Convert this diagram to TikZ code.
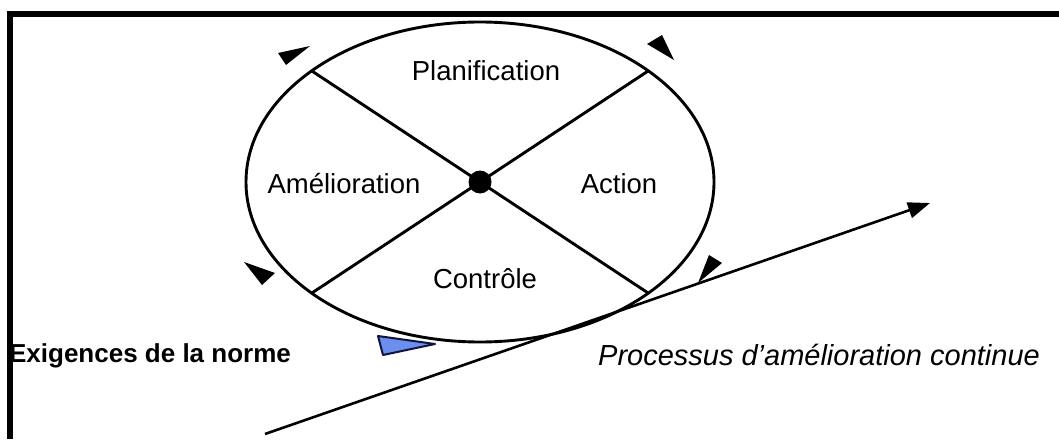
\documentclass[tikz,border=0pt]{standalone}
\usepackage{fontspec}
\setmainfont{Liberation Sans}
\usetikzlibrary{calc,arrows.meta}
\begin{document}
\begin{tikzpicture}[x=1pt,y=-1pt,
  label/.style={inner sep=0pt,anchor=base,font=\fontsize{27.5}{33}\selectfont},
  rim/.style={line width=2.9pt},
  tip/.style={fill=black}]
\useasboundingbox (0,0) rectangle (1059,439);
% frame (top and left edges)
\draw[line width=5.5pt,line join=miter] (9.75,439) -- (9.75,13.75) -- (1059,13.75);
% cycle
\coordinate (c) at (480,182);
\draw[rim] (c) ellipse [x radius=234, y radius=160];
\coordinate (ul) at ($(c)+({-234*cos(44)},{-160*sin(44)})$);
\coordinate (ur) at ($(c)+({234*cos(44)},{-160*sin(44)})$);
\coordinate (ll) at ($(c)+({-234*cos(44)},{160*sin(44)})$);
\coordinate (lr) at ($(c)+({234*cos(44)},{160*sin(44)})$);
\draw[rim] (ul) -- (lr);
\draw[rim] (ur) -- (ll);
\fill (c) circle (11.5);
% quadrant labels
\node[label] (plan) at (486,80) {Planification};
\node[label] (amel) at (344,193) {Amélioration};
\node[label] (act) at (619,193) {Action};
\node[label] (ctrl) at (485,288) {Contrôle};
% rotation marks around the cycle
\fill[tip] (310,46) -- (278,53) -- (286,65) -- cycle;
\fill[tip] (674,60) -- (647,44) -- (662,35) -- cycle;
\fill[tip] (698,283) -- (709,255) -- (722,263) -- cycle;
\fill[tip] (244,262) -- (275,273) -- (262,285) -- cycle;
\filldraw[fill={rgb,255:red,108;green,142;blue,238},draw={rgb,255:red,15;green,22;blue,60},line width=2pt,line join=round]
  (378,336) -- (435,344) -- (383,355) -- cycle;
% improvement slope
\coordinate (s0) at (265,434);
\coordinate (s1) at (930,203);
\draw[line width=2.6pt,-{Triangle[length=22pt,width=16pt]}] (s0) -- (s1);
% side labels
\node[label,font=\fontsize{26}{31}\selectfont\bfseries] (req) at (150,362) {Exigences de la norme};
\node[label,font=\fontsize{29}{34}\selectfont\itshape] (proc) at (819,365) {Processus d’amélioration continue};
\end{tikzpicture}
\end{document}
